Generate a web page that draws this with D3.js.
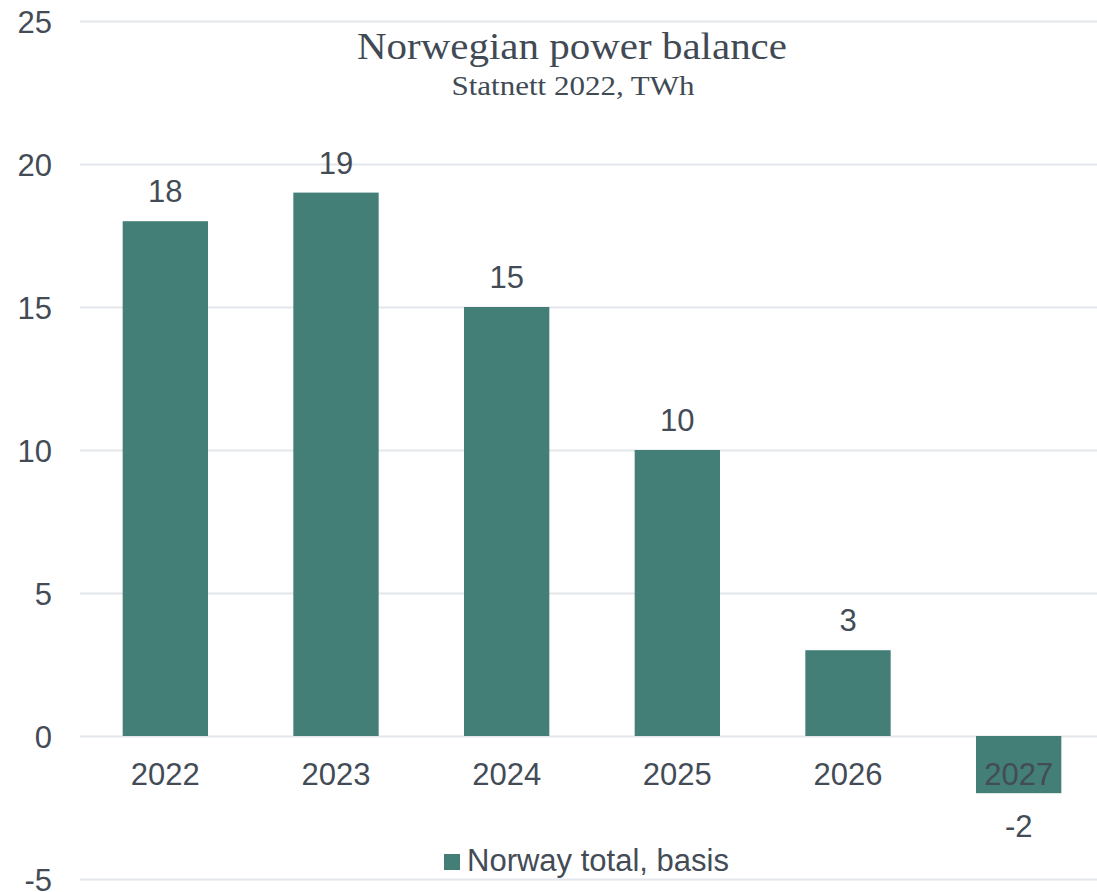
<!DOCTYPE html>
<html>
<head>
<meta charset="utf-8">
<script src="https://cdn.jsdelivr.net/npm/d3@7"></script>
<style>
  html, body { margin: 0; padding: 0; background: #ffffff; }
  svg { display: block; }
</style>
</head>
<body>
<svg id="chart" width="1097" height="892"></svg>
<script>
const categories = ["2022", "2023", "2024", "2025", "2026", "2027"];
const values = [18, 19, 15, 10, 3, -2];
const yTicks = [-5, 0, 5, 10, 15, 20, 25];
const seriesName = "Norway total, basis";
const titleText = "Norwegian power balance";
const subtitleText = "Statnett 2022, TWh";

const W = 1097, H = 892;
const svg = d3.select("#chart");
const textColor = "#434c56";
const barColor = "#437f77";
const gridColor = "#e3e6ea";
const sans = "'Liberation Sans', Arial, sans-serif";
const serif = "'Liberation Serif', 'Times New Roman', serif";
const fmt = d => String(d);

const plotLeft = 80, plotRight = 1104;
const y = d3.scaleLinear().domain([-5, 25]).range([879, 21]);
const x = d3.scaleBand().domain(categories).range([plotLeft, plotRight]).paddingInner(0.5).paddingOuter(0.25);

// gridlines
const yAxis = d3.axisLeft(y).tickValues(yTicks).tickSize(-(W - plotLeft)).tickPadding(28).tickFormat(fmt);
const gy = svg.append("g").attr("transform", `translate(${plotLeft},0)`).call(yAxis);
gy.select(".domain").remove();
gy.selectAll(".tick line").attr("stroke", gridColor).attr("stroke-width", 2);
gy.selectAll(".tick text").attr("fill", textColor).attr("font-family", sans).attr("font-size", 31).attr("dy", "0.36em");

// bars
svg.append("g").selectAll("rect").data(values).join("rect")
  .attr("x", (d, i) => x(categories[i]))
  .attr("width", x.bandwidth())
  .attr("y", d => y(Math.max(0, d)))
  .attr("height", d => Math.abs(y(d) - y(0)))
  .attr("fill", barColor);

// x axis labels
const xAxis = d3.axisBottom(x).tickSize(0).tickPadding(27);
const gx = svg.append("g").attr("transform", `translate(0,${y(0)})`).call(xAxis);
gx.select(".domain").remove();
gx.selectAll(".tick text").attr("fill", textColor).attr("font-family", sans).attr("font-size", 31);

// data labels
svg.append("g").selectAll("text").data(values).join("text")
  .attr("x", (d, i) => x(categories[i]) + x.bandwidth() / 2)
  .attr("y", d => d >= 0 ? y(d) - 19 : y(d) + 44)
  .attr("text-anchor", "middle")
  .attr("fill", textColor)
  .attr("font-family", sans)
  .attr("font-size", 31)
  .text(fmt);

// title
svg.append("text").attr("x", 572).attr("y", 59).attr("text-anchor", "middle")
  .attr("fill", "#3f4a55").attr("font-family", serif).attr("font-size", 38)
  .attr("textLength", 430).attr("lengthAdjust", "spacingAndGlyphs")
  .text(titleText);
svg.append("text").attr("x", 573).attr("y", 95).attr("text-anchor", "middle")
  .attr("fill", "#3f4a55").attr("font-family", serif).attr("font-size", 28)
  .attr("textLength", 243).attr("lengthAdjust", "spacingAndGlyphs")
  .text(subtitleText);

// legend
const lg = svg.append("g");
lg.append("rect").attr("x", 444).attr("y", 854).attr("width", 16).attr("height", 16).attr("fill", barColor);
lg.append("text").attr("x", 467).attr("y", 871).attr("fill", textColor)
  .attr("font-family", sans).attr("font-size", 31).text(seriesName);
</script>
</body>
</html>
